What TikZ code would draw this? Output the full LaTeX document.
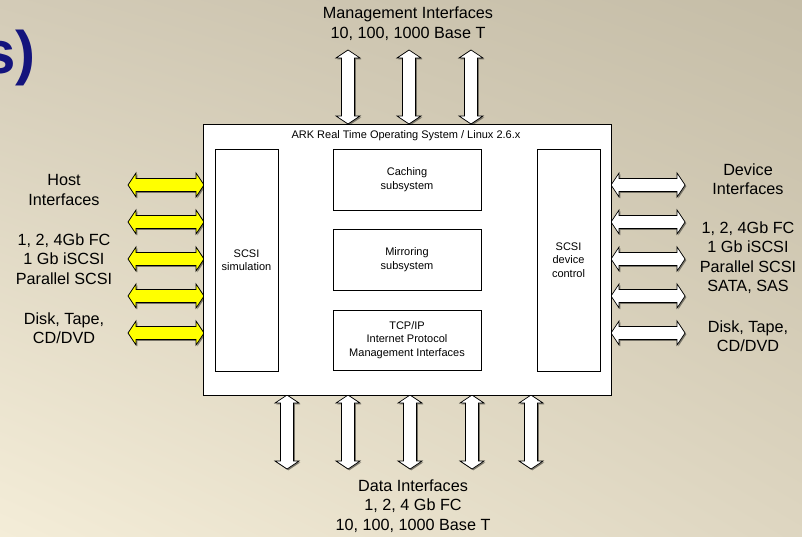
\documentclass[tikz,border=0pt]{standalone}
\usepackage{fontspec}
\setmainfont{Liberation Sans}
\usetikzlibrary{shadings}
\definecolor{bgTL}{RGB}{211,203,183}
\definecolor{bgTR}{RGB}{197,189,167}
\definecolor{bgBL}{RGB}{244,237,216}
\definecolor{bgBR}{RGB}{222,214,193}
\definecolor{navy}{RGB}{20,20,125}
\definecolor{ylw}{RGB}{255,255,0}
\definecolor{shadowc}{RGB}{120,116,104}
\newcommand\hpathx[3]{(#1,#3) -- ({#1+8},{#3-12}) -- ({#1+8},{#3-6.5}) -- ({#2-8},{#3-6.5}) -- ({#2-8},{#3-12}) -- (#2,#3) -- ({#2-8},{#3+12}) -- ({#2-8},{#3+6.5}) -- ({#1+8},{#3+6.5}) -- ({#1+8},{#3+12}) -- cycle}
\newcommand\vpathx[3]{(#1,#2) -- ({#1+12},{#2+8}) -- ({#1+6.5},{#2+8}) -- ({#1+6.5},{#3-8}) -- ({#1+12},{#3-8}) -- (#1,#3) -- ({#1-12},{#3-8}) -- ({#1-6.5},{#3-8}) -- ({#1-6.5},{#2+8}) -- ({#1-12},{#2+8}) -- cycle}
\newcommand\hdarr[4]{\fill[shadowc,xshift=1.3pt,yshift=-1.3pt] \hpathx{#1}{#2}{#3}; \filldraw[arrw,fill=#4] \hpathx{#1}{#2}{#3};}
\newcommand\vdarr[3]{\fill[shadowc,xshift=1.3pt,yshift=-1.3pt] \vpathx{#1}{#2}{#3}; \filldraw[arrw,fill=white] \vpathx{#1}{#2}{#3};}
\begin{document}
\begin{tikzpicture}[x=1pt,y=-1pt,
  lbl/.style={align=center, font=\fontsize{16.2}{19.5}\selectfont, inner sep=0pt},
  small/.style={align=center, font=\fontsize{11}{13.5}\selectfont, inner sep=0pt},
  box/.style={draw=black, line width=0.8pt, fill=white, inner sep=0pt},
  arrw/.style={draw=black, line width=0.7pt, line join=miter}]
\useasboundingbox (0,0) rectangle (802,537);
\shade[upper left=bgTL, upper right=bgTR, lower left=bgBL, lower right=bgBR] (0,0) rectangle (802,537);
\begin{scope}
\clip (0,0) rectangle (802,537);
\node[anchor=base west, inner sep=0pt, text=navy, font=\fontsize{60}{64}\selectfont\bfseries] (title) at (-18,74) {s)};
\end{scope}

% left yellow arrows
\foreach \yy in {185,222,259,296,333} {\hdarr{128}{204}{\yy}{ylw}}
% right white arrows
\foreach \yy in {185,222,259,296,333} {\hdarr{611}{685}{\yy}{white}}
% top arrows
\foreach \xx in {348,409,471} {\vdarr{\xx}{50}{124}}
% bottom arrows
\foreach \xx in {287,348,410,472,531} {\vdarr{\xx}{395}{469}}

% main box
\node[box, minimum width=408pt, minimum height=271pt] (main) at (407,259.5) {};
\node[small] (ark) at (406,136) {ARK Real Time Operating System / Linux 2.6.x};
\node[box, minimum width=63pt, minimum height=222pt, small] (sim) at (246.5,260) {SCSI\\simulation};
\node[box, minimum width=63pt, minimum height=222pt, small] (dev) at (568.5,260) {SCSI\\device\\control};
\node[box, minimum width=148pt, minimum height=61pt, small] (cache) at (407,179.5) {Caching\\subsystem};
\node[box, minimum width=148pt, minimum height=61pt, small] (mirror) at (407,259.5) {Mirroring\\subsystem};
\node[box, minimum width=148pt, minimum height=60pt, small] (tcp) at (407,340) {TCP/IP\\Internet Protocol\\Management Interfaces};

% labels
\node[lbl] (mgmt) at (408,23.5) {Management Interfaces\\10, 100, 1000 Base T};
\node[lbl] (data) at (413,506) {Data Interfaces\\1, 2, 4 Gb FC\\10, 100, 1000 Base T};
\node[lbl] (host) at (64,190) {Host\\Interfaces};
\node[lbl] (hostl) at (64,259) {1, 2, 4Gb FC\\1 Gb iSCSI\\Parallel SCSI};
\node[lbl] (hostm) at (64,328) {Disk, Tape,\\CD/DVD};
\node[lbl] (devi) at (748,179) {Device\\Interfaces};
\node[lbl] (devl) at (748,257.5) {1, 2, 4Gb FC\\1 Gb iSCSI\\Parallel SCSI\\SATA, SAS};
\node[lbl] (devm) at (748,336) {Disk, Tape,\\CD/DVD};
\end{tikzpicture}
\end{document}
